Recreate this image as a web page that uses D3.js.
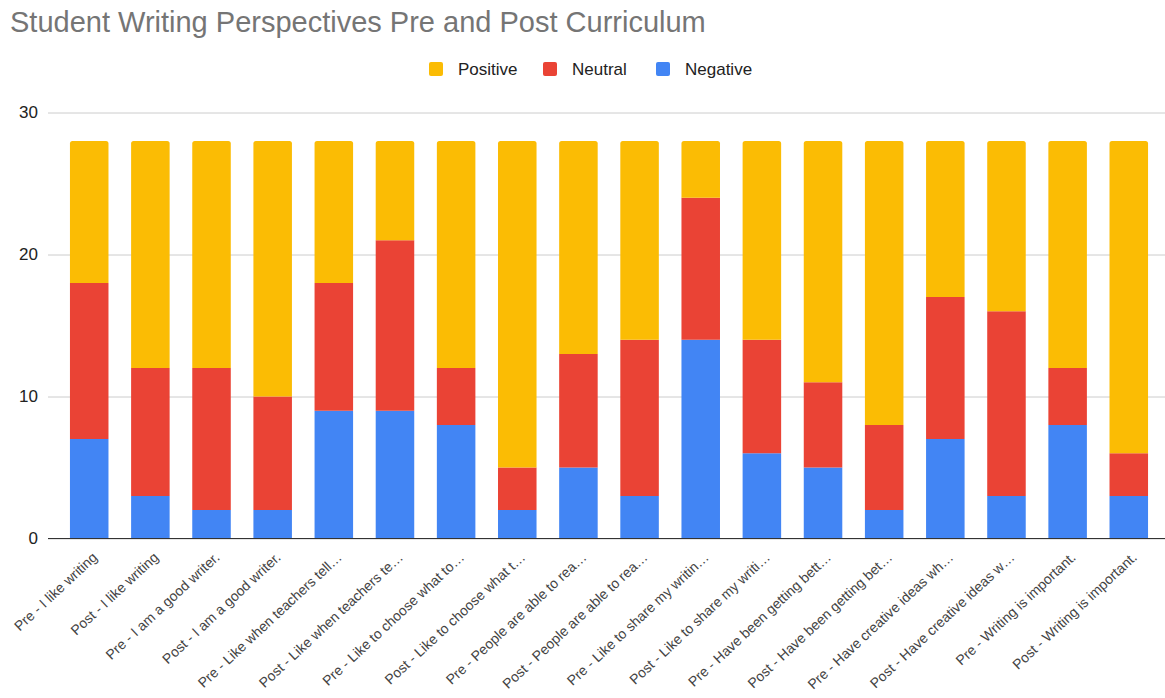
<!DOCTYPE html>
<html><head><meta charset="utf-8">
<script src="https://cdn.jsdelivr.net/npm/d3@7"></script>
<style>body{margin:0;background:#fff}svg{display:block}</style>
</head><body>
<svg id="c" width="1165" height="698"></svg>
<script>
const categories = [
  "Pre - I like writing","Post - I like writing","Pre - I am a good writer.","Post - I am a good writer.",
  "Pre - Like when teachers tell…","Post - Like when teachers te…","Pre - Like to choose what to…","Post - Like to choose what t…",
  "Pre - People are able to rea…","Post - People are able to rea…","Pre - Like to share my writin…","Post - Like to share my writi…",
  "Pre - Have been getting bett…","Post - Have been getting bet…","Pre - Have creative ideas wh…","Post - Have creative ideas w…",
  "Pre - Writing is important.","Post - Writing is important."
];
const negative = [7,3,2,2,9,9,8,2,5,3,14,6,5,2,7,3,8,3];
const neutral  = [11,9,10,8,9,12,4,3,8,11,10,8,6,6,10,13,4,3];
const positive = [10,16,16,18,10,7,16,23,15,14,4,14,17,20,11,12,16,22];
const yTicks = [0,10,20,30];
const seriesNames = ["Negative","Neutral","Positive"];
const colors = {Negative:"#4285F4", Neutral:"#EA4335", Positive:"#FBBC04"};
const legendOrder = ["Positive","Neutral","Negative"];

const svg = d3.select("#c");
const font = "'Liberation Sans', Arial, sans-serif";

const table = categories.map((c,i)=>({cat:c, Negative:negative[i], Neutral:neutral[i], Positive:positive[i]}));
const stack = d3.stack().keys(seriesNames)(table);

const x = d3.scaleBand().domain(categories).range([51,1167]).paddingInner(0.37).paddingOuter(0.31);
const y = d3.scaleLinear().domain([0,30]).range([538.5,112.5]);

// title
svg.append("text").attr("x",10).attr("y",32).attr("font-family",font).attr("font-size",29)
  .attr("fill","#757575").text("Student Writing Perspectives Pre and Post Curriculum");

// grid
const yAxis = d3.axisLeft(y).tickValues(yTicks).tickSize(-1117).tickPadding(12);
const gy = svg.append("g").attr("transform","translate(48,0)").call(yAxis);
gy.select(".domain").remove();
gy.selectAll(".tick line").attr("stroke","#cccccc").attr("stroke-width",1);
gy.selectAll(".tick text").attr("font-family",font).attr("font-size",17).attr("fill","#222").attr("x",-10);

// bars
const g = svg.append("g");
stack.forEach((s,si)=>{
  const top = si===stack.length-1;
  g.selectAll(null).data(s).enter().append("path")
    .attr("fill",colors[s.key])
    .attr("d",d=>{
      const x0=x(d.data.cat), w=x.bandwidth(), y0=y(d[0]), y1=y(d[1]);
      if(y0-y1<=0) return "";
      const r = top?2.5:0;
      return `M${x0},${y0}V${y1+r}Q${x0},${y1} ${x0+r},${y1}H${x0+w-r}Q${x0+w},${y1} ${x0+w},${y1+r}V${y0}Z`;
    });
});

// baseline
svg.append("line").attr("x1",48).attr("x2",1165).attr("y1",y(0)).attr("y2",y(0)).attr("stroke","#333").attr("stroke-width",1);

// x labels
const gx = svg.append("g").attr("transform",`translate(0,${y(0)})`)
  .call(d3.axisBottom(x).tickSize(0).tickPadding(0));
gx.select(".domain").remove();
gx.selectAll(".tick text").attr("font-family",font).attr("font-size",14).attr("fill","#444")
  .attr("text-anchor","end").attr("dy",0).attr("y",0)
  .attr("transform","translate(9,20) rotate(-43)");

// legend
const lx = [429,543,656];
legendOrder.forEach((k,i)=>{
  svg.append("rect").attr("x",lx[i]).attr("y",62).attr("width",14).attr("height",14).attr("rx",2).attr("fill",colors[k]);
  svg.append("text").attr("x",lx[i]+29).attr("y",75).attr("font-family",font).attr("font-size",17).attr("fill","#222").text(k);
});
</script>
</body></html>
